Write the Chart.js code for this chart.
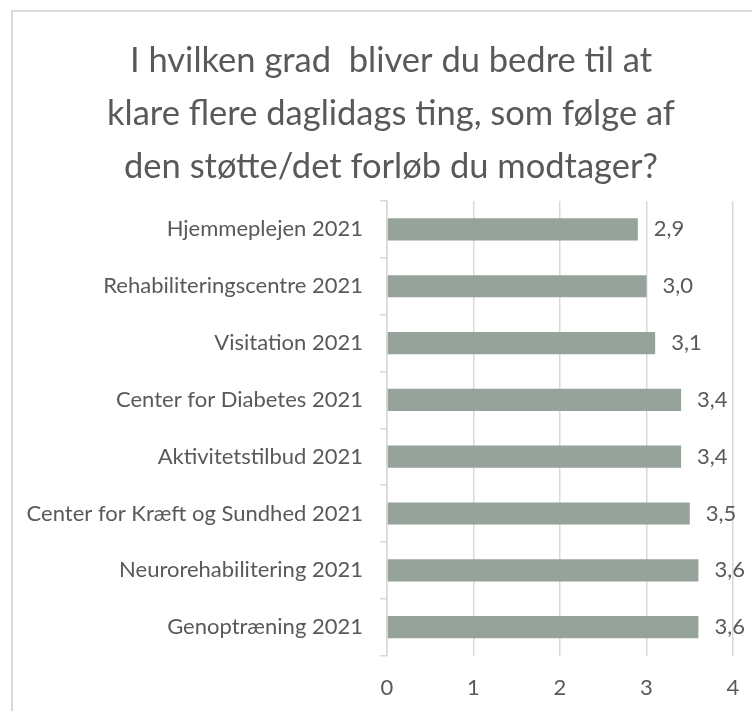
<!DOCTYPE html>
<html>
<head>
<meta charset="utf-8">
<script src="https://cdn.jsdelivr.net/npm/chart.js@4/dist/chart.umd.min.js"></script>
<style>
  html, body { margin: 0; padding: 0; background: #fff; overflow: hidden; width: 752px; height: 711px; }
  #frame {
    position: absolute; left: 11px; top: 10px; width: 800px; height: 800px;
    border-left: 2px solid #d9d9d9; border-top: 2px solid #d9d9d9;
  }
  #wrap { position: absolute; left: 11px; top: 10px; width: 760px; height: 720px; }
</style>
</head>
<body>
<div id="frame"></div>
<div id="wrap"><canvas id="chart" width="760" height="720"></canvas></div>
<script>
const titleLines = [
    "I hvilken grad  bliver du bedre til at",
    "klare flere daglidags ting, som følge af",
    "den støtte/det forløb du modtager?"
];
const categories = [
    "Hjemmeplejen 2021",
    "Rehabiliteringscentre 2021",
    "Visitation 2021",
    "Center for Diabetes 2021",
    "Aktivitetstilbud 2021",
    "Center for Kræft og Sundhed 2021",
    "Neurorehabilitering 2021",
    "Genoptræning 2021"
];
const scores = [2.9, 3.0, 3.1, 3.4, 3.4, 3.5, 3.6, 3.6];
const xTicks = [0, 1, 2, 3, 4];

const textColor = "#595959";
const gridColor = "#d9d9d9";
const fontFamily = "Lato, 'Open Sans', sans-serif";

// ===== Value labels at bar ends =====
const valueLabels = {
    id: "valueLabels",
    afterDatasetsDraw(chart) {
        const ctx = chart.ctx;
        const meta = chart.getDatasetMeta(0);
        ctx.save();
        ctx.font = "22px " + fontFamily;
        ctx.fillStyle = textColor;
        ctx.textAlign = "left";
        ctx.textBaseline = "middle";
        meta.data.forEach((bar, i) => {
            const txt = scores[i].toFixed(1).replace(".", ",");
            ctx.fillText(txt, bar.x + 16, bar.y);
        });
        ctx.restore();
    }
};

const ctx = document.getElementById("chart");

new Chart(ctx, {
    type: "bar",
    data: {
        labels: categories,
        datasets: [{
            data: scores,
            backgroundColor: "#96a39b",
            borderWidth: 0,
            categoryPercentage: 1,
            barPercentage: 0.39
        }]
    },
    options: {
        indexAxis: "y",
        responsive: false,
        maintainAspectRatio: false,
        animation: false,
        layout: { padding: { left: 0, right: 0, top: 0, bottom: 10 } },
        plugins: {
            legend: { display: false },
            tooltip: { enabled: false },
            title: {
                display: true,
                text: titleLines,
                color: textColor,
                font: { family: fontFamily, size: 34.5, weight: "normal", lineHeight: 1.536 },
                padding: { top: 24, bottom: 8 }
            }
        },
        scales: {
            x: {
                min: 0,
                max: 4,
                afterBuildTicks(scale) {
                    scale.ticks = xTicks.map(v => ({ value: v }));
                },
                grid: { color: gridColor, lineWidth: 1.5, drawTicks: false },
                border: { display: false },
                ticks: {
                    color: textColor,
                    padding: 19,
                    font: { family: fontFamily, size: 22 }
                }
            },
            y: {
                afterFit(scale) { scale.width = 376; },
                grid: {
                    offset: true,
                    drawOnChartArea: false,
                    drawTicks: true,
                    tickLength: 7,
                    color: gridColor,
                    lineWidth: 1.5
                },
                border: { display: true, color: gridColor, width: 1.5 },
                ticks: {
                    color: textColor,
                    padding: 17,
                    font: { family: fontFamily, size: 22 }
                }
            },
            // empty right-hand strip that keeps room for the value labels
            gutter: {
                type: "linear",
                position: "right",
                afterFit(scale) { scale.width = 38; },
                grid: { display: false },
                border: { display: false },
                ticks: { display: false }
            }
        }
    },
    plugins: [valueLabels]
});
</script>
</body>
</html>
